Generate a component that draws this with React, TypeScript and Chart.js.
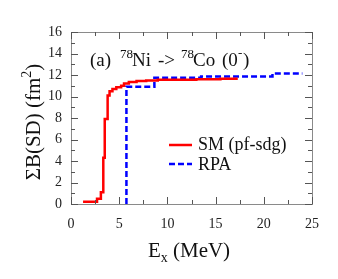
import React, { useEffect, useRef } from "react";
import { Chart, registerables } from "chart.js";

Chart.register(...registerables);

const smX = [1.25, 2.7, 3.1, 3.35, 3.5, 3.8, 4.0, 4.3, 4.7, 5.2, 5.5, 6.0, 6.8, 7.8, 9.0, 13.0, 15.5, 17.3];
const smY = [0.2, 0.5, 1.1, 4.3, 7.9, 10.1, 10.5, 10.7, 10.85, 11.0, 11.2, 11.35, 11.45, 11.5, 11.55, 11.6, 11.65, 11.65];
const rpaX = [5.75, 5.75, 8.65, 13.5, 20.9, 24.0];
const rpaY = [0, 10.9, 11.75, 11.85, 12.15, 12.15];
const xTicks = [0, 5, 10, 15, 20, 25];
const yTicks = [0, 2, 4, 6, 8, 10, 12, 14, 16];
const legendLabels = ["SM (pf-sdg)", "RPA"];

const SERIF = "\"Liberation Serif\", serif";

type Seg = { t: string; size: number; dy: number };

function segWidth(ctx: CanvasRenderingContext2D, segs: Seg[]) {
  let w = 0;
  for (const s of segs) {
    ctx.font = `${s.size}px ${SERIF}`;
    w += ctx.measureText(s.t).width;
  }
  return w;
}
function drawSegs(ctx: CanvasRenderingContext2D, segs: Seg[], x: number, y: number) {
  let cx = x;
  for (const s of segs) {
    ctx.font = `${s.size}px ${SERIF}`;
    ctx.fillText(s.t, cx, y + s.dy);
    cx += ctx.measureText(s.t).width;
  }
}

const decor = {
  id: "decor",
  afterDraw(chart: any) {
    const ctx: CanvasRenderingContext2D = chart.ctx;
    const a = chart.chartArea;
    const xs = chart.scales.x;
    const ys = chart.scales.y;
    ctx.save();
    ctx.strokeStyle = "#8a8a8a";
    ctx.lineWidth = 1;
    ctx.strokeRect(Math.round(a.left) + 0.5, Math.round(a.top) + 0.5, Math.round(a.right - a.left), Math.round(a.bottom - a.top));
    ctx.strokeStyle = "#555";
    ctx.beginPath();
    for (let v = 0; v <= 25; v += 2.5) {
      const px = Math.round(xs.getPixelForValue(v)) + 0.5;
      const len = v % 5 === 0 ? 7 : 4;
      ctx.moveTo(px, a.bottom);
      ctx.lineTo(px, a.bottom - len);
      ctx.moveTo(px, a.top);
      ctx.lineTo(px, a.top + len);
    }
    for (let v = 0; v <= 16; v += 1) {
      const py = Math.round(ys.getPixelForValue(v)) + 0.5;
      const len = v % 2 === 0 ? 7 : 4;
      ctx.moveTo(a.left, py);
      ctx.lineTo(a.left + len, py);
      ctx.moveTo(a.right, py);
      ctx.lineTo(a.right - len, py);
    }
    ctx.stroke();

    ctx.fillStyle = "#111";
    ctx.textBaseline = "alphabetic";
    ctx.textAlign = "left";
    const ann: [string, number, number, number][] = [
      ["(a)", 19, 90, 66],
      ["78", 13, 120, 58],
      ["Ni", 19, 132, 66],
      ["->", 19, 158, 66],
      ["78", 13, 181, 58],
      ["Co", 19, 193, 66],
      ["(0", 19, 222, 66],
      ["-", 13, 238, 57],
      [")", 19, 243, 66],
    ];
    for (const [t, size, x, y] of ann) {
      ctx.font = `${size}px ${SERIF}`;
      ctx.fillText(t, x, y);
    }

    ctx.lineWidth = 2.5;
    ctx.strokeStyle = "#ff0000";
    ctx.setLineDash([]);
    ctx.beginPath();
    ctx.moveTo(169, 145);
    ctx.lineTo(192, 145);
    ctx.stroke();
    ctx.strokeStyle = "#0000ff";
    ctx.setLineDash([6, 3]);
    ctx.beginPath();
    ctx.moveTo(169, 164);
    ctx.lineTo(192, 164);
    ctx.stroke();
    ctx.setLineDash([]);
    ctx.font = `18px ${SERIF}`;
    ctx.fillText(legendLabels[0], 198, 150);
    ctx.fillText(legendLabels[1], 198, 170);

    const xt: Seg[] = [
      { t: "E", size: 21, dy: 0 },
      { t: "x", size: 14, dy: 5 },
      { t: " (MeV)", size: 21, dy: 0 },
    ];
    const xw = segWidth(ctx, xt);
    drawSegs(ctx, xt, 189 - xw / 2, 257);

    const yt: Seg[] = [
      { t: "\u03A3B(SD) (fm", size: 21, dy: 0 },
      { t: "2", size: 14, dy: -9 },
      { t: ")", size: 21, dy: 0 },
    ];
    const yw = segWidth(ctx, yt);
    ctx.translate(40, 122);
    ctx.rotate(-Math.PI / 2);
    drawSegs(ctx, yt, -yw / 2, 0);
    ctx.restore();
  },
};

export default function App() {
  const ref = useRef<HTMLCanvasElement | null>(null);
  useEffect(() => {
    if (!ref.current) return;
    let chart: Chart | null = null;
    let cancelled = false;
    const make = () => {
      if (cancelled || !ref.current) return;
      chart = new Chart(ref.current, {
        type: "scatter",
        data: {
          datasets: [
            {
              label: legendLabels[0],
              data: smX.map((x, i) => ({ x, y: smY[i] })),
              showLine: true,
              stepped: "before",
              borderColor: "#ff0000",
              borderWidth: 2.5,
              pointRadius: 0,
            },
            {
              label: legendLabels[1],
              data: rpaX.map((x, i) => ({ x, y: rpaY[i] })),
              showLine: true,
              stepped: "before",
              borderColor: "#0000ff",
              borderWidth: 2.5,
              borderDash: [6, 3],
              pointRadius: 0,
            },
          ],
        },
        options: {
          responsive: false,
          animation: false,
          devicePixelRatio: 1,
          layout: { padding: { left: 0, right: 26, top: 32, bottom: 0 } },
          plugins: { legend: { display: false }, tooltip: { enabled: false } },
          scales: {
            x: {
              type: "linear",
              min: 0,
              max: 25,
              afterBuildTicks: (s: any) => { s.ticks = xTicks.map((v) => ({ value: v })); },
              afterFit: (s: any) => { s.height = 75; },
              ticks: { color: "#222", font: { family: SERIF, size: 14 }, padding: 12, maxRotation: 0 },
              grid: { display: false, drawTicks: false },
              border: { display: false },
            },
            y: {
              type: "linear",
              min: 0,
              max: 16,
              afterBuildTicks: (s: any) => { s.ticks = yTicks.map((v) => ({ value: v })); },
              afterFit: (s: any) => { s.width = 71; },
              ticks: { color: "#222", font: { family: SERIF, size: 14 }, padding: 9 },
              grid: { display: false, drawTicks: false },
              border: { display: false },
            },
          },
        },
        plugins: [decor],
      });
    };
    const fonts: any = (document as any).fonts;
    if (fonts && fonts.load) {
      Promise.all([
        fonts.load('18px "Liberation Serif"'),
        fonts.load('14px "Liberation Serif"'),
      ]).then(make, make);
    } else {
      make();
    }
    return () => {
      cancelled = true;
      if (chart) chart.destroy();
    };
  }, []);
  return (
    <div style={{ position: "fixed", left: 0, top: 0, width: 338, height: 279, background: "#fff" }}>
      <span style={{ fontFamily: "Liberation Serif", position: "absolute", left: -9999, top: 0 }}>.</span>
      <canvas ref={ref} width={338} height={279} style={{ display: "block" }} />
    </div>
  );
}
